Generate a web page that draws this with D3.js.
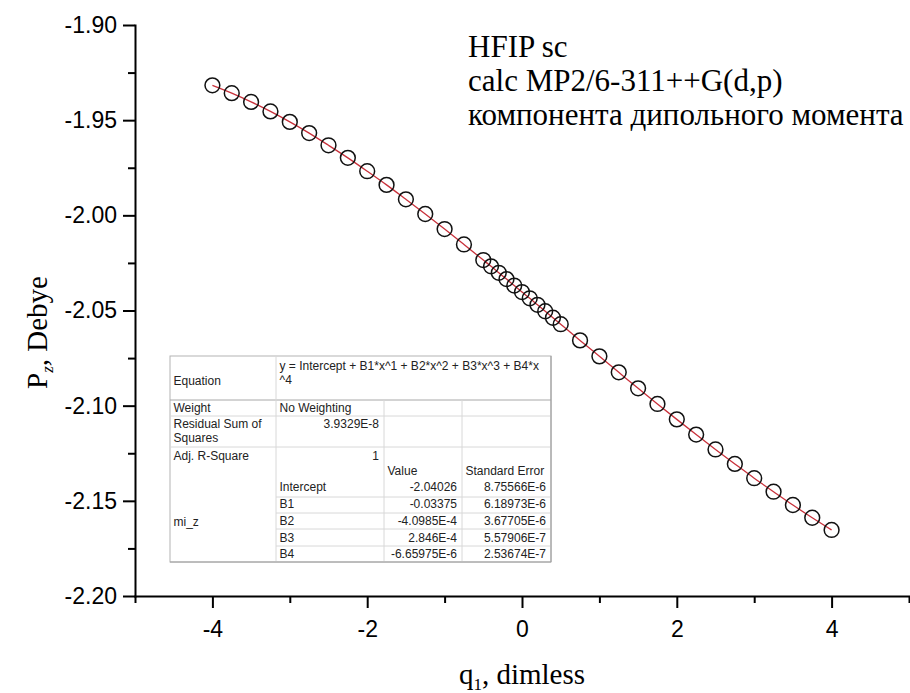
<!DOCTYPE html>
<html>
<head>
<meta charset="utf-8">
<script src="https://cdn.jsdelivr.net/npm/d3@7"></script>
<style>
  html, body { margin: 0; padding: 0; background: #fff; }
  svg { display: block; }
</style>
</head>
<body>
<script>
// Точки: координата q1 и компонента дипольного момента Pz (Debye)
const qValues = [
  -4, -3.75, -3.5, -3.25, -3, -2.75, -2.5, -2.25, -2, -1.75, -1.5, -1.25, -1, -0.75,
  -0.5, -0.4, -0.3, -0.2, -0.1, 0, 0.1, 0.2, 0.3, 0.4, 0.5,
  0.75, 1, 1.25, 1.5, 1.75, 2, 2.25, 2.5, 2.75, 3, 3.25, 3.5, 3.75, 4
];
const pzValues = [
  -1.9317, -1.9358, -1.9404, -1.9454, -1.9509, -1.9568, -1.9632, -1.9698, -1.9768, -1.9840,
  -1.9916, -1.9993, -2.0072, -2.0153,
  -2.0235, -2.0268, -2.0302, -2.0335, -2.0369, -2.0403, -2.0436, -2.0470, -2.0504, -2.0538, -2.0572,
  -2.0657, -2.0741, -2.0825, -2.0909, -2.0991, -2.1072, -2.1152, -2.1230, -2.1306, -2.1381,
  -2.1452, -2.1522, -2.1589, -2.1653
];

// Оси
const xMajor = [-4, -2, 0, 2, 4];
const xMinor = [-5, -3, -1, 1, 3, 5];
const yMajor = [-1.90, -1.95, -2.00, -2.05, -2.10, -2.15, -2.20];
const yMinor = [-1.925, -1.975, -2.025, -2.075, -2.125, -2.175];

// Подписи
const noteLines = ["HFIP sc", "calc MP2/6-311++G(d,p)", "компонента дипольного момента"];

// Таблица аппроксимации (Origin)
const fitEquation = ["y = Intercept + B1*x^1 + B2*x^2 + B3*x^3 + B4*x", "^4"];
const fitWeight = "No Weighting";
const fitRss = "3.9329E-8";
const fitAdjR2 = "1";
const paramNames = ["Intercept", "B1", "B2", "B3", "B4"];
const paramValues = ["-2.04026", "-0.03375", "-4.0985E-4", "2.846E-4", "-6.65975E-6"];
const paramErrors = ["8.75566E-6", "6.18973E-6", "3.67705E-6", "5.57906E-7", "2.53674E-7"];

const width = 910, height = 693;
const margin = {top: 25, right: 1, bottom: 97, left: 135};

const svg = d3.select("body").append("svg")
  .attr("width", width)
  .attr("height", height);

const x = d3.scaleLinear().domain([-5, 5]).range([margin.left, width - margin.right]);
const y = d3.scaleLinear().domain([-2.20, -1.90]).range([height - margin.bottom, margin.top]);

const serif = "'Liberation Serif', 'Times New Roman', serif";
const sans = "'Liberation Sans', Arial, sans-serif";

// --- оси ---
function styleAxis(g) {
  g.selectAll("path.domain").attr("stroke", "#000").attr("stroke-width", 2).attr("stroke-linecap", "square");
  g.selectAll(".tick line").attr("stroke", "#000").attr("stroke-width", 2);
  g.selectAll(".tick text").attr("fill", "#000").attr("font-family", sans).attr("font-size", 23);
}

svg.append("g")
  .attr("transform", `translate(0,${y(-2.20)})`)
  .call(d3.axisBottom(x).tickValues(xMinor).tickSize(7).tickSizeOuter(0).tickFormat(""))
  .call(g => g.select(".domain").remove())
  .call(styleAxis);

svg.append("g")
  .attr("transform", `translate(${x(-5)},0)`)
  .call(d3.axisLeft(y).tickValues(yMinor).tickSize(7).tickSizeOuter(0).tickFormat(""))
  .call(g => g.select(".domain").remove())
  .call(styleAxis);

svg.append("g")
  .attr("transform", `translate(0,${y(-2.20)})`)
  .call(d3.axisBottom(x).tickValues(xMajor).tickSize(12).tickSizeOuter(0).tickPadding(13)
    .tickFormat(d => String(d)))
  .call(styleAxis);

svg.append("g")
  .attr("transform", `translate(${x(-5)},0)`)
  .call(d3.axisLeft(y).tickValues(yMajor).tickSize(12).tickSizeOuter(0).tickPadding(6)
    .tickFormat(d => d.toFixed(2)))
  .call(styleAxis);

// --- подписи осей ---
const xTitle = svg.append("text")
  .attr("x", x(0))
  .attr("y", 684)
  .attr("text-anchor", "middle")
  .attr("font-family", serif)
  .attr("font-size", 29);
xTitle.append("tspan").text("q");
xTitle.append("tspan").attr("font-size", 17).attr("dy", 6).text("1");
xTitle.append("tspan").attr("dy", -6).text(", dimless");

const yTitle = svg.append("text")
  .attr("transform", `translate(47,${(y(-1.90) + y(-2.20)) / 2 + 22}) rotate(-90)`)
  .attr("text-anchor", "middle")
  .attr("font-family", serif)
  .attr("font-size", 29);
yTitle.append("tspan").text("P");
yTitle.append("tspan").attr("font-size", 17).attr("font-style", "italic").attr("dy", 6).text("z");
yTitle.append("tspan").attr("dy", -6).text(", Debye");

// --- аннотация ---
svg.append("g")
  .selectAll("text")
  .data(noteLines)
  .join("text")
  .attr("x", 468)
  .attr("y", (d, i) => 57 + i * 34)
  .attr("font-family", serif)
  .attr("font-size", 31)
  .attr("fill", "#000")
  .text(d => d);

// --- кривая аппроксимации и точки ---
const points = qValues.map((q, i) => ({q, p: pzValues[i]}));

svg.append("path")
  .datum(points)
  .attr("fill", "none")
  .attr("stroke", "#c8303a")
  .attr("stroke-width", 1.3)
  .attr("d", d3.line().x(d => x(d.q)).y(d => y(d.p)).curve(d3.curveMonotoneX));

svg.append("g")
  .selectAll("circle")
  .data(points)
  .join("circle")
  .attr("cx", d => x(d.q))
  .attr("cy", d => y(d.p))
  .attr("r", 7.4)
  .attr("fill", "none")
  .attr("stroke", "#111")
  .attr("stroke-width", 1.5);

// --- таблица ---
const tbl = svg.append("g").attr("font-family", sans).attr("font-size", 12).attr("fill", "#222");
const cols = [170, 276, 384, 462, 551];
const tTop = 356, tBottom = 562;
const rowLines = {eq: 400, weight: 416, rss: 447, intercept: 497, b1: 513, b2: 529, b3: 546};

tbl.append("rect")
  .attr("x", cols[0]).attr("y", tTop)
  .attr("width", cols[4] - cols[0]).attr("height", tBottom - tTop)
  .attr("fill", "#fff").attr("stroke", "#b4b4b4").attr("stroke-width", 1);

const hLine = (x1, x2, yy, c) => tbl.append("line")
  .attr("x1", x1).attr("x2", x2).attr("y1", yy).attr("y2", yy)
  .attr("stroke", c).attr("stroke-width", 1);
const vLine = (xx, y1, y2, c) => tbl.append("line")
  .attr("x1", xx).attr("x2", xx).attr("y1", y1).attr("y2", y2)
  .attr("stroke", c).attr("stroke-width", 1);

hLine(cols[0], cols[4], rowLines.eq, "#a8a8a8");
hLine(cols[0], cols[4], rowLines.weight, "#d8d8d8");
hLine(cols[0], cols[4], rowLines.rss, "#d8d8d8");
[rowLines.intercept, rowLines.b1, rowLines.b2, rowLines.b3].forEach(r => hLine(cols[1], cols[4], r, "#d8d8d8"));
vLine(cols[1], tTop, tBottom, "#d8d8d8");
vLine(cols[2], rowLines.eq, tBottom, "#d8d8d8");
vLine(cols[3], rowLines.eq, tBottom, "#d8d8d8");
vLine(cols[4], tTop, tBottom, "#9a9a9a");
hLine(cols[0], cols[4], tBottom, "#a0a0a0");

const cell = (tx, ty, s, anchor = "start") => tbl.append("text")
  .attr("x", tx).attr("y", ty).attr("dy", "0.35em")
  .attr("text-anchor", anchor).text(s);

const padL = 3.5, padR = 5;
cell(cols[0] + padL, 381, "Equation");
fitEquation.forEach((s, i) => cell(cols[1] + padL, 366 + i * 14, s));
cell(cols[0] + padL, 408, "Weight");
cell(cols[1] + padL, 408, fitWeight);
cell(cols[0] + padL, 424, "Residual Sum of");
cell(cols[0] + padL, 438, "Squares");
cell(cols[2] - padR, 424, fitRss, "end");
cell(cols[0] + padL, 456, "Adj. R-Square");
cell(cols[2] - padR, 456, fitAdjR2, "end");
cell(cols[2] + padL, 471, "Value");
cell(cols[3] + padL, 471, "Standard Error");
cell(cols[0] + padL, 522, "mi_z");

const paramRowY = [487, 504, 521, 538, 554];
paramNames.forEach((nm, i) => {
  cell(cols[1] + padL, paramRowY[i], nm);
  cell(cols[3] - padR, paramRowY[i], paramValues[i], "end");
  cell(cols[4] - padR, paramRowY[i], paramErrors[i], "end");
});
</script>
</body>
</html>
